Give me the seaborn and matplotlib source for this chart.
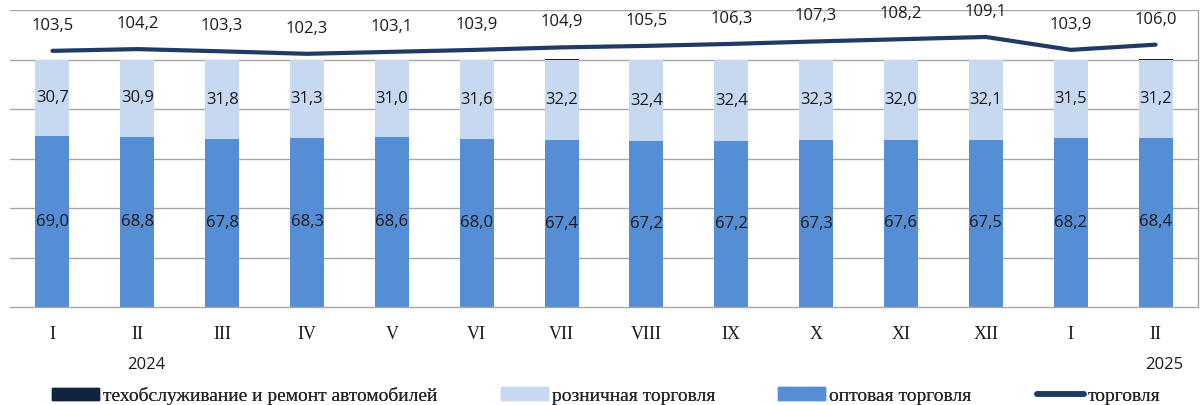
import numpy as np
import pandas as pd
import seaborn as sns
from matplotlib import pyplot as plt
from matplotlib.lines import Line2D
from matplotlib.patches import Patch
import matplotlib.transforms as mtransforms

# data
months = ["I", "II", "III", "IV", "V", "VI", "VII", "VIII", "IX", "X", "XI", "XII", "I", "II"]
keys = [f"{m}_{i}" for i, m in enumerate(months)]  # unique keys (I, II repeat)
wholesale = [69.0, 68.8, 67.8, 68.3, 68.6, 68.0, 67.4, 67.2, 67.2, 67.3, 67.6, 67.5, 68.2, 68.4]
retail = [30.7, 30.9, 31.8, 31.3, 31.0, 31.6, 32.2, 32.4, 32.4, 32.3, 32.0, 32.1, 31.5, 31.2]
service = [0.3, 0.3, 0.4, 0.4, 0.4, 0.4, 0.4, 0.4, 0.4, 0.4, 0.4, 0.4, 0.3, 0.4]
trade = [103.5, 104.2, 103.3, 102.3, 103.1, 103.9, 104.9, 105.5, 106.3, 107.3, 108.2, 109.1, 103.9, 106.0]
years = {1: "2024", 13: "2025"}

c_service = "#10243F"
c_retail = "#C6D9F1"
c_wholesale = "#558ED5"
c_line = "#1F3B63"
grid_c = "#A6A6A6"

df = pd.DataFrame({"key": keys, "wholesale": wholesale, "retail": retail, "service": service})
df["top2"] = df["wholesale"] + df["retail"]
df["top3"] = df["top2"] + df["service"]

sns.set_style("white")
plt.rcParams["font.family"] = ["DejaVu Sans"]

fig = plt.figure(figsize=(12.04, 4.05), dpi=100)
ax = fig.add_axes([10 / 1204, 1 - 307 / 405, 1188 / 1204, 297 / 405])

# stacked bars: draw cumulative totals back to front
for col, c in [("top3", c_service), ("top2", c_retail), ("wholesale", c_wholesale)]:
    sns.barplot(data=df, x="key", y=col, color=c, width=0.4, saturation=1,
                linewidth=0, ax=ax, zorder=2)

pos = np.arange(len(keys))
sns.lineplot(x=pos, y=trade, color=c_line, linewidth=3, ax=ax, zorder=3,
             solid_capstyle="round", solid_joinstyle="round")

lab_font = dict(family="Open Sans", size=12, color="#1a1a1a")
fmt = lambda v: f"{v:.1f}".replace(".", ",")
for i in range(len(keys)):
    ax.text(i, wholesale[i] / 2, fmt(wholesale[i]), ha="center", va="center", zorder=4, **lab_font)
    ax.text(i, wholesale[i] + retail[i] / 2, fmt(retail[i]), ha="center", va="center", zorder=4, **lab_font)
    ax.annotate(fmt(trade[i]), (i, trade[i]), xytext=(0, 18), textcoords="offset points",
                ha="center", va="center", zorder=4, **lab_font)

ax.set_xlim(-0.5, len(keys) - 0.5)
ax.set_ylim(0, 120)
ax.set_yticks(np.arange(20, 121, 20))
ax.set_yticklabels([])
ax.tick_params(axis="y", length=0)
ax.yaxis.grid(True, color=grid_c, linewidth=1)
ax.set_axisbelow(True)

# ticks between categories, labels at centres
ax.set_xticks(np.arange(-0.5, len(keys), 1.0))
ax.set_xticklabels([])
ax.tick_params(axis="x", which="major", length=5, color=grid_c, width=1)
ax.set_xticks(pos, minor=True)
ax.set_xticklabels(months, minor=True, family="Liberation Serif", fontsize=13, color="#1a1a1a")
ax.tick_params(axis="x", which="minor", length=0, pad=14)
ax.set_xlabel("")
ax.set_ylabel("")

for s in ["top", "left"]:
    ax.spines[s].set_visible(False)
for s in ["bottom", "right"]:
    ax.spines[s].set_color(grid_c)
    ax.spines[s].set_linewidth(1)

trans = mtransforms.blended_transform_factory(ax.transData, ax.transAxes)
for i, y in years.items():
    ax.text(i + 0.1, -0.195, y, transform=trans, ha="center", va="center",
            family="Open Sans", fontsize=12, color="#1a1a1a")

# legend entries placed one by one, as in the original
handles = [Patch(color=c_service), Patch(color=c_retail), Patch(color=c_wholesale),
           Line2D([], [], color=c_line, linewidth=4, solid_capstyle="round")]
labels = ["техобслуживание и ремонт автомобилей", "розничная торговля", "оптовая торговля", "торговля"]
leg_x = [52, 501, 778, 1037]
for h, l, x in zip(handles, labels, leg_x):
    leg = fig.legend([h], [l], loc="center left", bbox_to_anchor=(x / 1204, 1 - 396 / 405),
                     frameon=False, borderpad=0, borderaxespad=0, handlelength=2.4,
                     handleheight=0.6, handletextpad=0.2,
                     prop=dict(family="Liberation Serif", size=14))
    fig.add_artist(leg)

fig.savefig("out.png", dpi=100)
